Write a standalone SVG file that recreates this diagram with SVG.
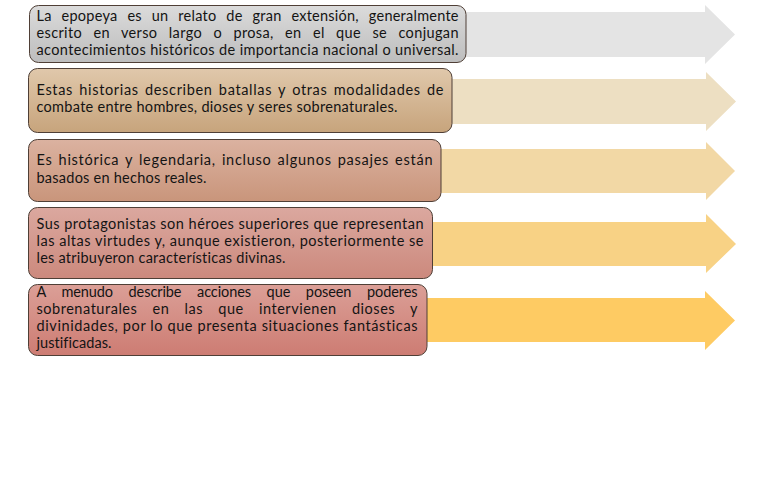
<svg xmlns="http://www.w3.org/2000/svg" width="768" height="480" viewBox="0 0 768 480">
<defs>
<linearGradient id="g1" x1="0" y1="0" x2="0" y2="1"><stop offset="0" stop-color="#dbdbdb"/><stop offset="1" stop-color="#bdbdbd"/></linearGradient>
<linearGradient id="g2" x1="0" y1="0" x2="0" y2="1"><stop offset="0" stop-color="#e0c8ab"/><stop offset="1" stop-color="#c7a47c"/></linearGradient>
<linearGradient id="g3" x1="0" y1="0" x2="0" y2="1"><stop offset="0" stop-color="#dbb2a0"/><stop offset="1" stop-color="#c9957b"/></linearGradient>
<linearGradient id="g4" x1="0" y1="0" x2="0" y2="1"><stop offset="0" stop-color="#dba89f"/><stop offset="1" stop-color="#cc897d"/></linearGradient>
<linearGradient id="g5" x1="0" y1="0" x2="0" y2="1"><stop offset="0" stop-color="#db9f97"/><stop offset="1" stop-color="#cd7c73"/></linearGradient>
</defs>
<style>
.box{stroke:#4f3f36;stroke-width:1}
.t{font-family:Lato,"Liberation Sans",sans-serif;font-size:14.5px;fill:#141414;font-variant-ligatures:none}
</style>
<rect width="768" height="480" fill="#ffffff"/>
<g id="item1">
<polygon points="300,12 705,12 705,5 735,34.5 705,64 705,57 300,57" fill="#e4e4e4"/>
<rect class="box" x="29.5" y="5.5" width="436.5" height="57" rx="9" fill="url(#g1)" stroke="#7a7a7a"/>
<text class="t" x="36.5" y="21" word-spacing="6" textLength="422" lengthAdjust="spacing">La epopeya es un relato de gran extensión, generalmente</text>
<text class="t" x="36.5" y="38" word-spacing="7.3" textLength="422" lengthAdjust="spacing">escrito en verso largo o prosa, en el que se conjugan</text>
<text class="t" x="36.5" y="55" textLength="422" lengthAdjust="spacing">acontecimientos históricos de importancia nacional o universal.</text>
</g>
<g id="item2">
<polygon points="300,79 706,79 706,72 736,101.5 706,131 706,124 300,124" fill="#eddfc2"/>
<rect class="box" x="28.5" y="68.5" width="423.5" height="64" rx="9" fill="url(#g2)"/>
<text class="t" x="36.5" y="94.5" word-spacing="2" textLength="407" lengthAdjust="spacing">Estas historias describen batallas y otras modalidades de</text>
<text class="t" x="36.5" y="111.5" textLength="361" lengthAdjust="spacing">combate entre hombres, dioses y seres sobrenaturales.</text>
</g>
<g id="item3">
<polygon points="300,149 706,149 706,142 735,171 706,200 706,193 300,193" fill="#f2d8a5"/>
<rect class="box" x="28.5" y="139.5" width="412.5" height="62" rx="9" fill="url(#g3)"/>
<text class="t" x="36.5" y="165" word-spacing="1.6" textLength="396" lengthAdjust="spacing">Es histórica y legendaria, incluso algunos pasajes están</text>
<text class="t" x="36.5" y="183" textLength="170" lengthAdjust="spacing">basados en hechos reales.</text>
</g>
<g id="item4">
<polygon points="300,222 706,222 706,214 736,244 706,273 706,266 300,266" fill="#f8d285"/>
<rect class="box" x="28.5" y="207.5" width="404" height="71" rx="9" fill="url(#g4)"/>
<text class="t" x="36.5" y="229" textLength="387" lengthAdjust="spacing">Sus protagonistas son héroes superiores que representan</text>
<text class="t" x="36.5" y="246" textLength="387" lengthAdjust="spacing">las altas virtudes y, aunque existieron, posteriormente se</text>
<text class="t" x="36.5" y="263" textLength="249" lengthAdjust="spacing">les atribuyeron características divinas.</text>
</g>
<g id="item5">
<polygon points="300,298 705,298 705,291 735,320.5 705,350 705,342 300,342" fill="#fecb63"/>
<rect class="box" x="28.5" y="284.5" width="398.5" height="71" rx="9" fill="url(#g5)"/>
<text class="t" x="36.5" y="297" word-spacing="12" textLength="381" lengthAdjust="spacing">A menudo describe acciones que poseen poderes</text>
<text class="t" x="36.5" y="314" word-spacing="11" textLength="381" lengthAdjust="spacing">sobrenaturales en las que intervienen dioses y</text>
<text class="t" x="36.5" y="331" textLength="381" lengthAdjust="spacing">divinidades, por lo que presenta situaciones fantásticas</text>
<text class="t" x="36.5" y="348" textLength="75" lengthAdjust="spacing">justificadas.</text>
</g>
<g id="connectors"/>
</svg>
